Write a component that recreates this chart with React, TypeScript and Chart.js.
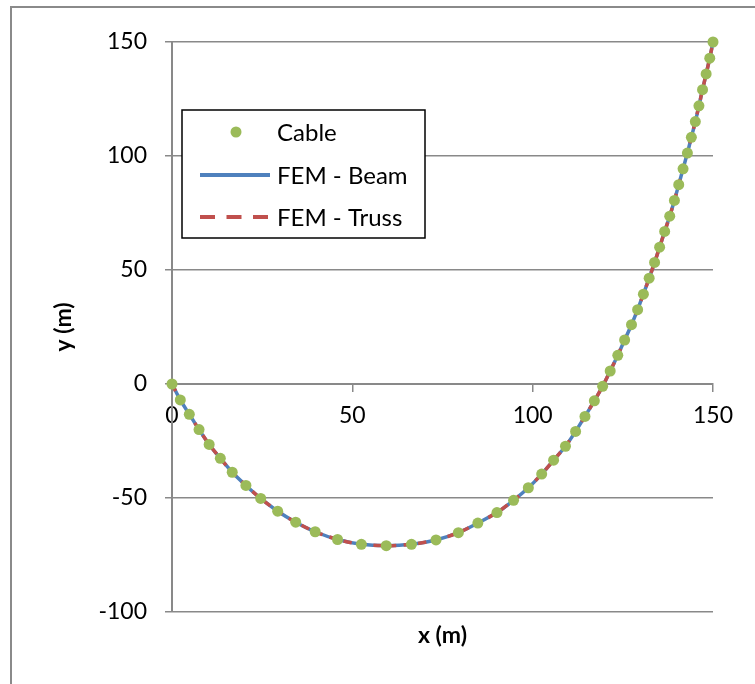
import { useEffect, useRef } from "react";
import { Chart, registerables } from "chart.js";

Chart.register(...registerables);

// Cable solution points (x, y) in metres
const cableX = [0, 2.3, 4.8, 7.5, 10.3, 13.4, 16.7, 20.5, 24.6, 29.3, 34.3, 39.7, 45.9, 52.5, 59.4, 66.4, 73.2, 79.4, 84.8, 90.1, 94.7, 98.8, 102.5, 105.8, 109.1, 111.9, 114.5, 117.1, 119.4, 121.5, 123.6, 125.5, 127.4, 129.1, 130.7, 132.3, 133.8, 135.2, 136.6, 138.0, 139.3, 140.5, 141.7, 142.9, 144.0, 145.1, 146.1, 147.1, 148.1, 149.1, 150];
const cableY = [0, -7.0, -13.3, -20.0, -26.5, -32.6, -38.7, -44.5, -50.2, -55.8, -60.6, -64.8, -68.2, -70.3, -70.9, -70.3, -68.4, -65.2, -61.0, -56.4, -51.0, -45.5, -39.5, -33.4, -27.3, -20.8, -14.2, -7.4, -1.0, 5.7, 12.6, 19.3, 26.0, 32.6, 39.4, 46.4, 53.3, 60.0, 66.9, 73.6, 80.5, 87.4, 94.4, 101.3, 108.2, 115.1, 122.0, 129.1, 136.0, 142.9, 150];

// FEM results coincide with the cable solution
const femBeamX = cableX;
const femBeamY = cableY;
const femTrussX = cableX;
const femTrussY = cableY;

const seriesLabels = ["Cable", "FEM - Beam", "FEM - Truss"];
const xTicks = [0, 50, 100, 150];
const yTicks = [-100, -50, 0, 50, 100, 150];

const toPts = (xs: number[], ys: number[]) => xs.map((x, i) => ({ x, y: ys[i] }));

const FONT = "Lato, 'Open Sans', sans-serif";
const GRID = "#898989";

const boxLegend = {
  id: "boxLegend",
  afterDraw(chart: any) {
    const { ctx, chartArea } = chart;
    const left = chartArea.left + 10;
    const top = chartArea.top + 68;
    const w = 243;
    const h = 128;
    ctx.save();
    ctx.fillStyle = "#ffffff";
    ctx.fillRect(left, top, w, h);
    ctx.strokeStyle = "#000000";
    ctx.lineWidth = 1.5;
    ctx.strokeRect(left, top, w, h);
    const rows = [22, 65, 107];
    chart.data.datasets.forEach((ds: any, i: number) => {
      const cy = top + rows[i];
      if (!ds.showLine) {
        ctx.beginPath();
        ctx.fillStyle = ds.backgroundColor;
        ctx.arc(left + 54, cy, 5.5, 0, Math.PI * 2);
        ctx.fill();
      } else {
        ctx.beginPath();
        ctx.strokeStyle = ds.borderColor;
        ctx.lineWidth = 4;
        ctx.setLineDash(ds.borderDash && ds.borderDash.length ? [15, 11.5] : []);
        ctx.moveTo(left + 18, cy);
        ctx.lineTo(left + 88, cy);
        ctx.stroke();
        ctx.setLineDash([]);
      }
      ctx.fillStyle = "#000000";
      ctx.font = `24px ${FONT}`;
      ctx.textBaseline = "middle";
      ctx.textAlign = "left";
      ctx.fillText(ds.label, left + 95, cy + 1);
    });
    ctx.restore();
  },
};

export default function App() {
  const ref = useRef<HTMLCanvasElement | null>(null);

  useEffect(() => {
    if (!ref.current) return;
    const chart = new Chart(ref.current, {
      type: "scatter",
      data: {
        datasets: [
          {
            label: seriesLabels[0],
            data: toPts(cableX, cableY),
            showLine: false,
            backgroundColor: "#9BBB59",
            borderColor: "#9BBB59",
            pointRadius: 5.5,
            pointBorderWidth: 0,
            clip: false,
            order: 0,
          } as any,
          {
            label: seriesLabels[1],
            data: toPts(femBeamX, femBeamY),
            showLine: true,
            borderColor: "#4F81BD",
            backgroundColor: "#4F81BD",
            borderWidth: 3.5,
            pointRadius: 0,
            tension: 0.3,
            clip: false,
            order: 2,
          },
          {
            label: seriesLabels[2],
            data: toPts(femTrussX, femTrussY),
            showLine: true,
            borderColor: "#C0504D",
            backgroundColor: "#C0504D",
            borderWidth: 3.5,
            borderDash: [8, 7],
            pointRadius: 0,
            tension: 0.3,
            clip: false,
            order: 1,
          },
        ],
      },
      options: {
        animation: false,
        responsive: true,
        maintainAspectRatio: false,
        layout: { padding: { top: 42, right: 42, bottom: 0, left: 0 } },
        plugins: { legend: { display: false }, tooltip: { enabled: false } },
        scales: {
          x: {
            type: "linear",
            position: { y: 0 } as any,
            min: xTicks[0],
            max: xTicks[xTicks.length - 1],
            afterBuildTicks: (s: any) => {
              s.ticks = xTicks.map((v) => ({ value: v }));
            },
            ticks: { color: "#000", font: { family: FONT, size: 23 }, padding: 11 },
            grid: { drawOnChartArea: false, drawTicks: true, tickLength: 7, color: GRID, lineWidth: 1.5 },
            border: { display: true, color: GRID, width: 2 },
          },
          x2: {
            type: "linear",
            position: "bottom",
            min: xTicks[0],
            max: xTicks[xTicks.length - 1],
            ticks: { display: false },
            grid: { display: false },
            border: { display: false },
            title: {
              display: true,
              text: "x (m)",
              color: "#000",
              font: { family: FONT, size: 23, weight: "bold" },
              padding: { top: 0, bottom: 35 },
            },
            afterFit: (s: any) => {
              s.height = 72;
            },
          },
          y: {
            type: "linear",
            position: "left",
            min: yTicks[0],
            max: yTicks[yTicks.length - 1],
            afterBuildTicks: (s: any) => {
              s.ticks = yTicks.map((v) => ({ value: v }));
            },
            ticks: { color: "#000", font: { family: FONT, size: 23 }, padding: 18 },
            grid: { drawTicks: true, tickLength: 7, color: GRID, lineWidth: 1.5 },
            border: { display: true, color: GRID, width: 2 },
            title: {
              display: true,
              text: "y (m)",
              color: "#000",
              font: { family: FONT, size: 23, weight: "bold" },
              padding: { top: 50, bottom: 0 },
            },
            afterFit: (s: any) => {
              s.width = 172;
            },
          },
        },
      },
      plugins: [boxLegend],
    });
    return () => chart.destroy();
  }, []);

  return (
    <div style={{ position: "fixed", left: 0, top: 0, width: 755, height: 684, background: "#fff" }}>
      <div
        style={{
          position: "absolute",
          left: 10,
          top: 6,
          width: 800,
          height: 800,
          borderTop: "2px solid #8a8a8a",
          borderLeft: "2px solid #8a8a8a",
        }}
      />
      <canvas ref={ref} style={{ position: "absolute", left: 0, top: 0 }} />
    </div>
  );
}
